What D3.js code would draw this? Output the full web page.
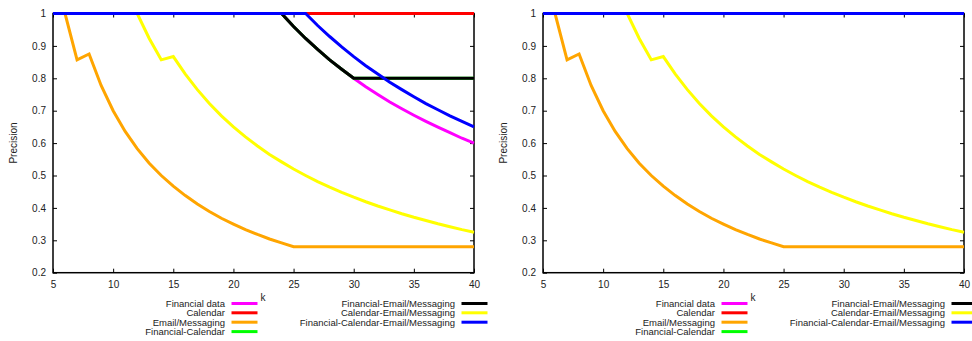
<!DOCTYPE html>
<html>
<head>
<meta charset="utf-8">
<script src="https://cdn.jsdelivr.net/npm/d3@7"></script>
<style>
  body { margin: 0; background: #fff; }
  svg { display: block; }
  text { font-family: "Liberation Sans", Arial, sans-serif; fill: #222; }
</style>
</head>
<body>
<div id="chart"></div>
<script>

// k values on the x axis
var kValues = [5,6,7,8,9,10,11,12,13,14,15,16,17,18,19,20,21,22,23,24,25,26,27,28,29,30,31,32,33,34,35,36,37,38,39,40];

var xTicks = [5,10,15,20,25,30,35,40];
var yTicks = [0.2,0.3,0.4,0.5,0.6,0.7,0.8,0.9,1];

var seriesNames = ["Financial data","Calendar","Email/Messaging","Financial-Calendar",
  "Financial-Email/Messaging","Calendar-Email/Messaging","Financial-Calendar-Email/Messaging"];
var seriesColors = ["#ff00ff","#ff0000","#ffa500","#00ff00","#000000","#ffff00","#0000ff"];

// left panel
var financialData = [1,1,1,1,1,1,1,1,1,1,1,1,1,1,1,1,1,1,1,1,0.96,0.923,0.889,0.857,0.828,0.8,0.774,0.75,0.727,0.706,0.686,0.667,0.649,0.632,0.615,0.6];
var calendar = [1,1,1,1,1,1,1,1,1,1,1,1,1,1,1,1,1,1,1,1,1,1,1,1,1,1,1,1,1,1,1,1,1,1,1,1];
var emailMessaging = [1,1,0.857,0.875,0.778,0.7,0.636,0.583,0.538,0.5,0.467,0.438,0.412,0.389,0.368,0.35,0.333,0.318,0.304,0.292,0.28,0.28,0.28,0.28,0.28,0.28,0.28,0.28,0.28,0.28,0.28,0.28,0.28,0.28,0.28,0.28];
var financialCalendar = [1,1,1,1,1,1,1,1,1,1,1,1,1,1,1,1,1,1,1,1,0.96,0.923,0.889,0.857,0.828,0.8,0.8,0.8,0.8,0.8,0.8,0.8,0.8,0.8,0.8,0.8];
var financialEmail = [1,1,1,1,1,1,1,1,1,1,1,1,1,1,1,1,1,1,1,1,0.96,0.923,0.889,0.857,0.828,0.8,0.8,0.8,0.8,0.8,0.8,0.8,0.8,0.8,0.8,0.8];
var calendarEmail = [1,1,1,1,1,1,1,1,0.923,0.857,0.867,0.813,0.765,0.722,0.684,0.65,0.619,0.591,0.565,0.542,0.52,0.5,0.481,0.464,0.448,0.433,0.419,0.406,0.394,0.382,0.371,0.361,0.351,0.342,0.333,0.325];
var allCombined = [1,1,1,1,1,1,1,1,1,1,1,1,1,1,1,1,1,1,1,1,1,1,0.963,0.929,0.897,0.867,0.839,0.813,0.788,0.765,0.743,0.722,0.703,0.684,0.667,0.65];

// right panel
var allOnes = [1,1,1,1,1,1,1,1,1,1,1,1,1,1,1,1,1,1,1,1,1,1,1,1,1,1,1,1,1,1,1,1,1,1,1,1];

var leftSeries = [financialData, calendar, emailMessaging, financialCalendar, financialEmail, calendarEmail, allCombined];
var rightSeries = [allOnes, allOnes, emailMessaging, allOnes, allOnes, calendarEmail, allOnes];

var svgWidth = 972, svgHeight = 341;

var svg = d3.select("#chart")
  .append("svg")
  .attr("width", svgWidth)
  .attr("height", svgHeight);

function drawPanel(offsetX, seriesList, id) {
  var plotLeft = 53, plotTop = 13.5;
  var width = 421, height = 259.2;

  var g = svg.append("g")
    .attr("transform", `translate(${offsetX + plotLeft}, ${plotTop})`);

  g.append("clipPath").attr("id", "clip" + id)
    .append("rect").attr("x", 0).attr("y", -5).attr("width", width + 1).attr("height", height + 5);

  var xScale = d3.scaleLinear().domain([5, 40]).range([0, width]);
  var yScale = d3.scaleLinear().domain([0.2, 1]).range([height, 0]);

  // frame first, curves go over it
  g.append("rect")
    .attr("width", width).attr("height", height)
    .attr("fill", "none").attr("stroke", "#000").attr("stroke-width", 1.5);

  // ticks on all four sides, pointing in
  var axisStyle = function(sel) {
    sel.select(".domain").remove();
    sel.selectAll(".tick line").attr("stroke", "#000");
    sel.selectAll("text").attr("font-size", "10px").style("fill", "#222");
  };

  g.append("g").attr("transform", `translate(0, ${height})`)
    .call(d3.axisBottom(xScale).tickValues(xTicks).tickSize(-4).tickPadding(8))
    .call(axisStyle);
  g.append("g")
    .call(d3.axisTop(xScale).tickValues(xTicks).tickSize(-4).tickFormat(""))
    .call(axisStyle);
  g.append("g")
    .call(d3.axisLeft(yScale).tickValues(yTicks).tickSize(-4).tickPadding(7)
      .tickFormat(d => d === 1 ? "1" : d3.format(".1f")(d)))
    .call(axisStyle);
  g.append("g").attr("transform", `translate(${width}, 0)`)
    .call(d3.axisRight(yScale).tickValues(yTicks).tickSize(-4).tickFormat(""))
    .call(axisStyle);

  var line = d3.line()
    .x((d, i) => xScale(kValues[i]))
    .y(d => yScale(d));

  var lines = g.append("g").attr("clip-path", `url(#clip${id})`);
  seriesList.forEach(function(values, i) {
    lines.append("path")
      .datum(values)
      .attr("fill", "none")
      .attr("stroke", seriesColors[i])
      .attr("stroke-width", 3)
      .attr("stroke-linejoin", "miter")
      .attr("d", line);
  });

  // axis titles
  svg.append("text")
    .attr("transform", `translate(${offsetX + 17}, 143) rotate(-90)`)
    .attr("text-anchor", "middle")
    .attr("font-size", "10px")
    .text("Precision");

  svg.append("text")
    .attr("x", offsetX + 263).attr("y", 300.5)
    .attr("text-anchor", "middle")
    .attr("font-size", "10px")
    .text("k");

  // legend, two columns
  var rowY = [303.5, 312.8, 322.2, 331.6];
  seriesNames.forEach(function(name, i) {
    var col = i < 4 ? 0 : 1;
    var row = i < 4 ? i : i - 4;
    var textRight = offsetX + (col === 0 ? 225 : 455);
    var y = rowY[row];
    svg.append("text")
      .attr("x", textRight).attr("y", y + 3.4)
      .attr("text-anchor", "end")
      .attr("font-size", "9.5px")
      .text(name);
    svg.append("line")
      .attr("x1", textRight + 6.5).attr("x2", textRight + 32.5)
      .attr("y1", y).attr("y2", y)
      .attr("stroke", seriesColors[i])
      .attr("stroke-width", 3);
  });
}

drawPanel(0, leftSeries, "L");
drawPanel(490, rightSeries, "R");

</script>
</body>
</html>
